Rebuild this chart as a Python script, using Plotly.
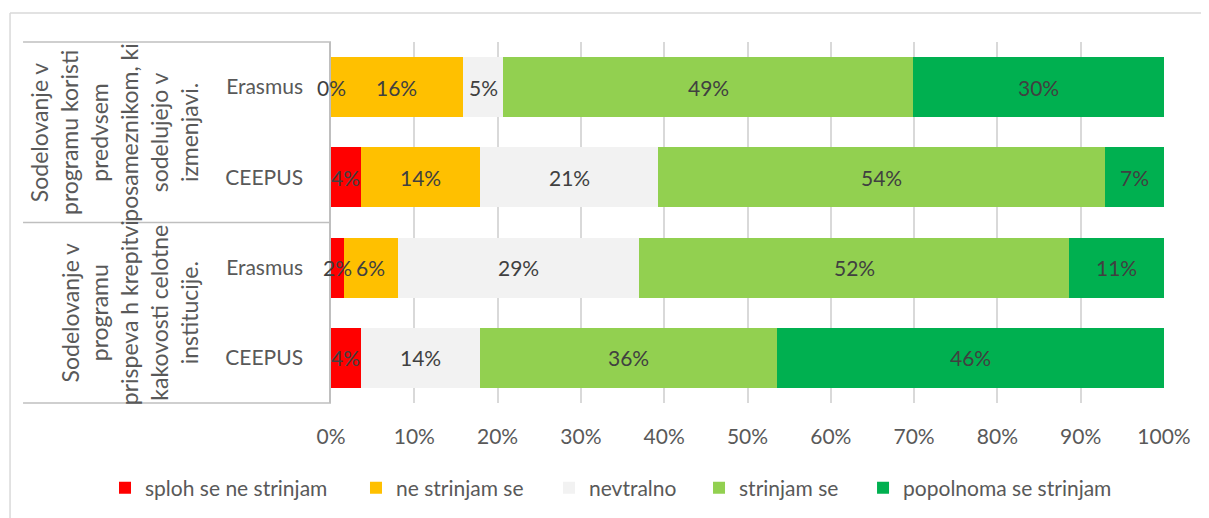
import plotly.graph_objects as go

programs = ["Erasmus", "CEEPUS", "Erasmus", "CEEPUS"]
groups = [
    "Sodelovanje v<br>programu koristi<br>predvsem<br>posameznikom, ki<br>sodelujejo v<br>izmenjavi.",
    " <br>Sodelovanje v<br>programu<br>prispeva h krepitvi<br>kakovosti celotne<br>institucije.",
]
series_names = ["sploh se ne strinjam", "ne strinjam se", "nevtralno", "strinjam se", "popolnoma se strinjam"]
colors = ["#FF0000", "#FFC000", "#F2F2F2", "#92D050", "#00B050"]

# percentage per row (rows: Erasmus, CEEPUS, Erasmus, CEEPUS)
sploh = [0.0, 3.6, 1.6, 3.6]
ne = [15.8, 14.3, 6.4, None]
nevtralno = [4.9, 21.4, 29.0, 14.3]
strinjam = [49.2, 53.6, 51.6, 35.7]
popolnoma = [30.1, 7.1, 11.4, 46.4]
series = [sploh, ne, nevtralno, strinjam, popolnoma]

rows = list(range(len(programs)))
FONT = "Lato"
TXT = "#595959"

legend_ids = ["legend", "legend2", "legend3", "legend4", "legend5"]
legend_x = [-0.2713, 0.0300, 0.2617, 0.4418, 0.6387]

fig = go.Figure()
for name, col, vals, lid in zip(series_names, colors, series, legend_ids):
    fig.add_trace(go.Bar(
        y=rows, x=[v if v is not None else 0 for v in vals], name=name,
        orientation="h", marker=dict(color=col, line=dict(width=0)),
        width=0.665, hoverinfo="x+name", legend=lid,
    ))

annotations = []
for r in rows:
    cum = 0.0
    for vals in series:
        v = vals[r]
        if v is None:
            continue
        annotations.append(dict(
            x=cum + v / 2, y=r, xref="x", yref="y", text=f"{int(v + 0.5)}%",
            showarrow=False, font=dict(family=FONT, size=21, color="#404040"),
        ))
        cum += v

# group labels (rotated)
for gi, g in enumerate(groups):
    annotations.append(dict(
        x=-0.26, y=0.75 - 0.5 * gi, xref="paper", yref="paper", text=g,
        textangle=-90, showarrow=False, align="center",
        xanchor="center", yanchor="middle",
        font=dict(family=FONT, size=23, color=TXT),
    ))

line_col = "#BFBFBF"
shapes = []
for yp in [1.0, 0.5, 0.0]:
    shapes.append(dict(type="line", xref="paper", yref="paper", x0=-0.3697, x1=0.0,
                       y0=yp, y1=yp, line=dict(color=line_col, width=1.5)))
# chart border
shapes.append(dict(type="line", xref="paper", yref="paper", x0=-0.3853, x1=1.06,
                   y0=1.0803, y1=1.0803, line=dict(color="#D9D9D9", width=1.5)))
shapes.append(dict(type="line", xref="paper", yref="paper", x0=-0.3853, x1=-0.3853,
                   y0=1.0803, y1=-0.33, line=dict(color="#D9D9D9", width=1.5)))

layout_legends = {}
for lid, lx in zip(legend_ids, legend_x):
    layout_legends[lid] = dict(
        orientation="h", x=lx, xanchor="left", y=-0.2355, yanchor="middle",
        font=dict(family=FONT, size=21, color=TXT), bgcolor="rgba(0,0,0,0)",
        borderwidth=0,
    )

fig.update_layout(
    width=1201, height=510,
    margin=dict(l=323, r=45, t=34, b=115, autoexpand=False),
    barmode="stack",
    paper_bgcolor="white", plot_bgcolor="white",
    font=dict(family=FONT, size=21, color=TXT),
    showlegend=True,
    annotations=annotations, shapes=shapes,
    **layout_legends,
)
fig.update_xaxes(range=[0, 100], dtick=10, ticksuffix="%", showgrid=True,
                 gridcolor="#D9D9D9", gridwidth=1.5, zeroline=False, showline=False,
                 ticks="", ticklabelstandoff=19,
                 tickfont=dict(family=FONT, size=21, color=TXT))
fig.update_yaxes(range=[3.5, -0.5], tickvals=rows, ticktext=programs,
                 showgrid=False, zeroline=False, showline=True, linecolor=line_col,
                 linewidth=1.5, ticks="", ticklabelstandoff=22,
                 tickfont=dict(family=FONT, size=21, color=TXT))

fig.write_html("out.html")
